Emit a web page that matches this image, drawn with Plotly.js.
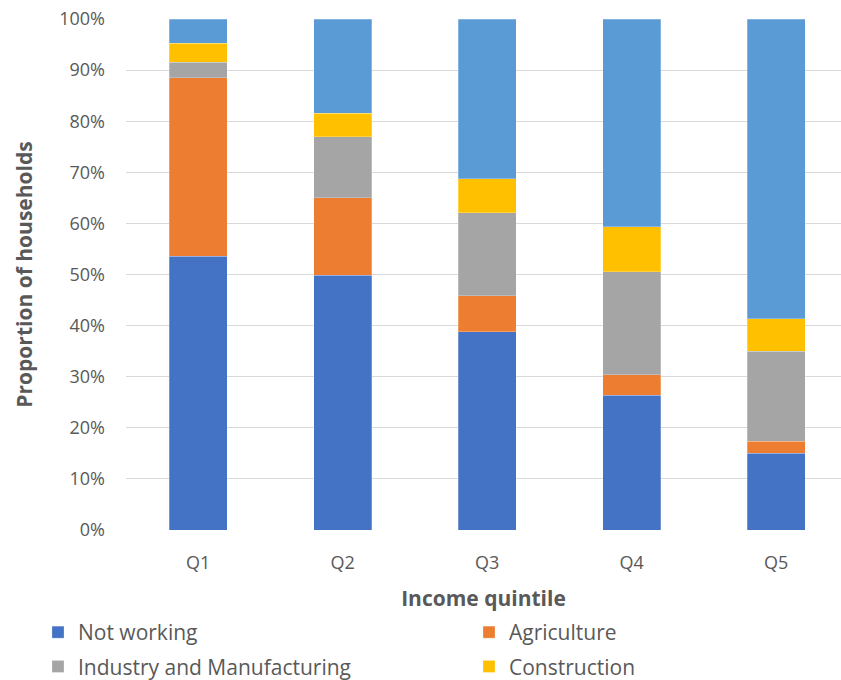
<!DOCTYPE html>
<html>
<head>
<meta charset="utf-8">
<script src="https://cdn.plot.ly/plotly-3.0.1.min.js"></script>
<style>html,body{margin:0;padding:0;background:#fff;}#chart{width:841px;height:680px;}</style>
</head>
<body>
<div id="chart"></div>
<script>
const categories = ["Q1", "Q2", "Q3", "Q4", "Q5"];
const notWorking = [53.6, 49.9, 38.8, 26.4, 15.0];
const agriculture = [34.9, 15.1, 7.0, 4.0, 2.4];
const industry = [3.0, 12.0, 16.3, 20.1, 17.6];
const construction = [3.8, 4.6, 6.6, 8.8, 6.3];
const services = [4.7, 18.4, 31.3, 40.7, 58.7];
const yTickVals = [0, 10, 20, 30, 40, 50, 60, 70, 80, 90, 100];
const yTickText = ["0%", "10%", "20%", "30%", "40%", "50%", "60%", "70%", "80%", "90%", "100%"];

const seriesDefs = [
  {name: "Not working", y: notWorking, color: "#4472C4", legend: true, lg: "legend"},
  {name: "Agriculture", y: agriculture, color: "#ED7D31", legend: true, lg: "legend2"},
  {name: "Industry and Manufacturing", y: industry, color: "#A5A5A5", legend: true, lg: "legend"},
  {name: "Construction", y: construction, color: "#FFC000", legend: true, lg: "legend2"},
  {name: "Services", y: services, color: "#5B9BD5", legend: false, lg: "legend"}
];

const traces = seriesDefs.map((s, i) => ({
  type: "bar",
  x: categories,
  y: s.y,
  name: s.name,
  showlegend: s.legend,
  legend: s.lg,
  legendgroup: "g" + i,
  marker: {color: s.color, line: {color: "rgba(255,255,255,0.5)", width: 0.5}},
  hoverinfo: "x+y+name"
}));

const fontFam = "'Open Sans', Lato, sans-serif";
const legendFont = {family: fontFam, size: 21, color: "#595959"};
const layout = {
  width: 841, height: 680,
  margin: {l: 126, r: 0, t: 19, b: 150},
  barmode: "stack",
  bargap: 0.6,
  paper_bgcolor: "#ffffff",
  plot_bgcolor: "#ffffff",
  font: {family: fontFam, color: "#595959", size: 18},
  xaxis: {
    range: [-0.5, 4.448],
    showgrid: false,
    showline: false,
    zeroline: false,
    ticks: "",
    ticklabelstandoff: 20,
    tickfont: {size: 18, color: "#595959"},
    title: {text: "<b>Income quintile</b>", font: {size: 21, color: "#595959"}, standoff: 21}
  },
  yaxis: {
    range: [0, 100],
    tickvals: yTickVals,
    ticktext: yTickText,
    showgrid: true,
    gridcolor: "#d9d9d9",
    gridwidth: 1,
    zeroline: false,
    showline: false,
    ticks: "",
    ticklabelstandoff: 20,
    tickfont: {size: 18, color: "#595959"},
    title: {text: "<b>Proportion of households</b>", font: {size: 21, color: "#595959"}, standoff: 20}
  },
  legend: {
    orientation: "v",
    x: -0.1231, xanchor: "left",
    yref: "container",
    y: 0.1, yanchor: "top",
    font: legendFont,
    tracegroupgap: 4,
    traceorder: "grouped",
    bgcolor: "rgba(0,0,0,0)"
  },
  legend2: {
    orientation: "v",
    x: 0.4797, xanchor: "left",
    yref: "container",
    y: 0.1, yanchor: "top",
    font: legendFont,
    tracegroupgap: 4,
    traceorder: "grouped",
    bgcolor: "rgba(0,0,0,0)"
  }
};

Plotly.newPlot("chart", traces, layout, {displayModeBar: false, staticPlot: true});
</script>
</body>
</html>
